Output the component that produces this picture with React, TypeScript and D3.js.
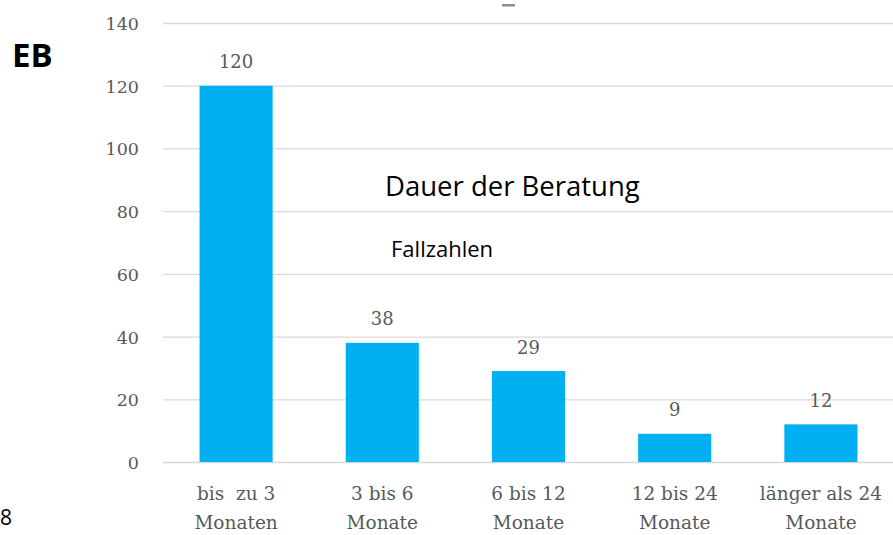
import { useEffect, useRef } from "react"
import * as d3 from "d3"

// chart values
const categories = ["bis  zu 3|Monaten", "3 bis 6|Monate", "6 bis 12|Monate", "12 bis 24|Monate", "länger als 24|Monate"]
const counts = [120, 38, 29, 9, 12]
const yTicks = [0, 20, 40, 60, 80, 100, 120, 140]

export default function App() {
    const ref = useRef<SVGSVGElement | null>(null)

    useEffect(() => {
        const width = 893
        const height = 535
        const marginTop = 23
        const marginBottom = 73
        const marginLeft = 163

        const svg = d3.select(ref.current)
        svg.selectAll('*').remove()

        const x = d3.scaleBand()
            .domain(categories)
            .range([marginLeft, 894])
            .paddingInner(0.5)
            .paddingOuter(0.25)

        const y = d3.scaleLinear()
            .domain([0, 140])
            .range([height - marginBottom, marginTop])

        const serif = "'DejaVu Serif', serif"
        const grey = '#595959'

        // gridlines
        svg.append('g')
            .selectAll('line')
            .data(yTicks)
            .join('line')
                .attr('x1', marginLeft)
                .attr('x2', width)
                .attr('y1', d => y(d) + 0.5)
                .attr('y2', d => y(d) + 0.5)
                .attr('stroke', '#d9d9d9')
                .attr('stroke-width', 1.3)

        // y tick labels
        svg.append('g')
                .attr('fill', grey)
                .attr('text-anchor', 'end')
                .attr('font-family', serif)
                .attr('font-size', 17.5)
            .selectAll('text')
            .data(yTicks)
            .join('text')
                .attr('x', 139)
                .attr('y', d => y(d) + 7)
                .text(d => d)

        // bars
        svg.append('g')
            .selectAll('rect')
            .data(counts)
            .join('rect')
                .attr('fill', '#00b0f0')
                .attr('x', (_, i) => x(categories[i])!)
                .attr('y', d => y(d))
                .attr('width', x.bandwidth())
                .attr('height', d => y(0) - y(d))

        // value labels
        svg.append('g')
                .attr('fill', grey)
                .attr('text-anchor', 'middle')
                .attr('font-family', serif)
                .attr('font-size', 18)
            .selectAll('text')
            .data(counts)
            .join('text')
                .attr('x', (_, i) => x(categories[i])! + x.bandwidth() / 2)
                .attr('y', d => y(d) - 17.5)
                .text(d => d)

        // category labels, two lines each
        const cat = svg.append('g')
                .attr('fill', grey)
                .attr('text-anchor', 'middle')
                .attr('font-family', serif)
                .attr('font-size', 18.5)
            .selectAll('text')
            .data(categories)
            .join('text')
                .attr('x', d => x(d)! + x.bandwidth() / 2)
                .attr('y', 500)
                .style('white-space', 'pre')
        cat.append('tspan')
            .attr('x', d => x(d)! + x.bandwidth() / 2)
            .attr('y', 500)
            .text(d => d.split('|')[0])
        cat.append('tspan')
            .attr('x', d => x(d)! + x.bandwidth() / 2)
            .attr('y', 529)
            .text(d => d.split('|')[1])

        // texts overlaid on the chart
        const sans = "'Open Sans', sans-serif"
        svg.append('text')
            .attr('x', 12)
            .attr('y', 67)
            .attr('font-family', sans)
            .attr('font-weight', 'bold')
            .attr('font-size', 33)
            .attr('fill', '#000')
            .text('EB')

        svg.append('text')
            .attr('x', 385)
            .attr('y', 196)
            .attr('font-family', sans)
            .attr('font-size', 27.5)
            .attr('fill', '#000')
            .text('Dauer der Beratung')

        svg.append('text')
            .attr('x', 391)
            .attr('y', 257)
            .attr('font-family', sans)
            .attr('font-size', 22)
            .attr('fill', '#000')
            .text('Fallzahlen')

        svg.append('text')
            .attr('x', 0)
            .attr('y', 525)
            .attr('font-family', sans)
            .attr('font-size', 21)
            .attr('fill', '#000')
            .text('8')

        // cut-off remnant of a heading at the top edge
        svg.append('rect')
            .attr('x', 502)
            .attr('y', 4)
            .attr('width', 13)
            .attr('height', 2.5)
            .attr('fill', '#8c8c8c')
    }, [])

    return (
        <div style={{ position: 'absolute', left: 0, top: 0 }}>
            <svg ref={ref} width={893} height={535} style={{ display: 'block', background: '#fff' }} />
        </div>
    )
}
